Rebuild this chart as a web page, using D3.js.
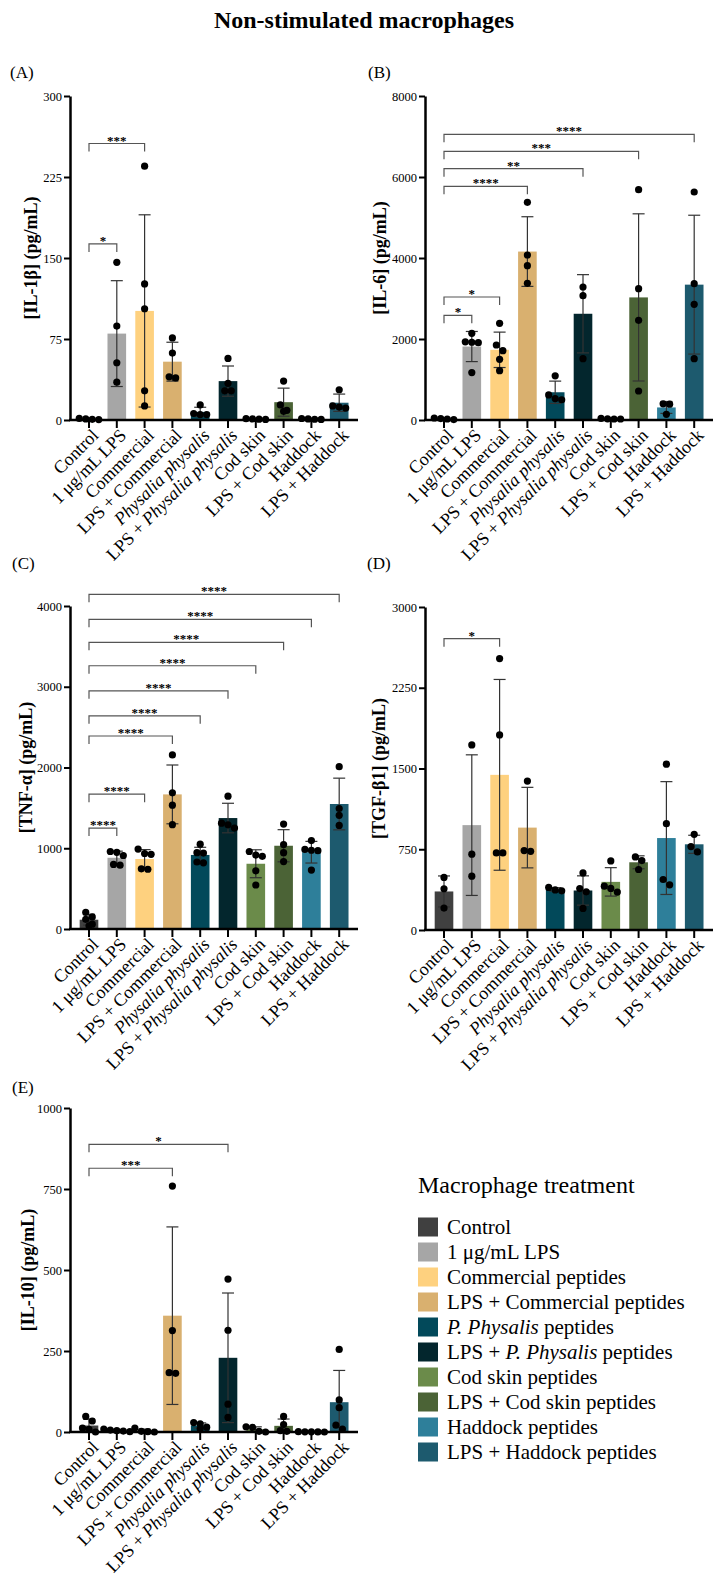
<!DOCTYPE html>
<html>
<head>
<meta charset="utf-8">
<script src="https://cdn.jsdelivr.net/npm/d3@7"></script>
<style>
  body { margin: 0; background: #fff; }
  svg { display: block; }
  text { font-family: "Liberation Serif", "Times New Roman", serif; fill: #000; }
</style>
</head>
<body>
<svg id="chart" width="728" height="1589"></svg>
<script>
// categories + colours
const categories = ["Control", "1 μg/mL LPS", "Commercial", "LPS + Commercial", "Physalia physalis",
  "LPS + Physalia physalis", "Cod skin", "LPS + Cod skin", "Haddock", "LPS + Haddock"];
const legendLabels = ["Control", "1 μg/mL LPS", "Commercial peptides", "LPS + Commercial peptides",
  "P. Physalis peptides", "LPS + P. Physalis peptides", "Cod skin peptides", "LPS + Cod skin peptides",
  "Haddock peptides", "LPS + Haddock peptides"];
const barColors = ["#404040", "#a6a6a6", "#fed17f", "#d9b06f", "#02495a", "#03262d", "#6b8b4a", "#4b6336", "#2e7f9a", "#1d5a6e"];

// (A) IL-1β
const il1bMeans = [1, 80, 101, 54, 7.5, 36, 1, 16.5, 1, 16];
const il1bSD = [0.6, 49, 89, 18, 4.3, 14, 0.5, 13, 0.5, 8];
const il1bPoints = [[1.5, 1, 0.6, 0.4], [146, 87, 53, 35], [235, 126, 103, 27, 13], [76, 62, 40, 39], [14, 6, 5, 5],
  [57, 34, 27, 27], [1.2, 1, 0.8, 0.5], [36, 14, 9, 8], [1.4, 1, 0.7, 0.5], [28, 13, 12, 11]];
const il1bTicks = [0, 75, 150, 225, 300];
const il1bSig = [{ to: 1, label: "*", at: 163 }, { to: 2, label: "***", at: 256 }];

// (B) IL-6
const il6Means = [30, 1814, 1733, 4159, 685, 2623, 30, 3027, 310, 3342];
const il6SD = [15, 372, 437, 860, 275, 966, 12, 2064, 147, 1714];
const il6Points = [[50, 35, 25, 10], [2140, 1930, 1920, 1910, 1170], [2387, 1852, 1712, 1498, 1218], [5375, 4074, 3811, 3375],
  [1090, 620, 530, 500], [3284, 3070, 1514], [40, 30, 25, 25], [5687, 3243, 2461, 716], [400, 390, 140], [5630, 3366, 2856, 1514]];
const il6Ticks = [0, 2000, 4000, 6000, 8000];
const il6Sig = [{ to: 1, label: "*", at: 2585 }, { to: 2, label: "*", at: 3037 }, { to: 3, label: "****", at: 5770 },
  { to: 5, label: "**", at: 6205 }, { to: 7, label: "***", at: 6635 }, { to: 9, label: "****", at: 7054 }];

// (C) TNF-α
const tnfMeans = [115, 882, 867, 1667, 917, 1374, 808, 1031, 951, 1548];
const tnfSD = [67, 82, 116, 364, 95, 183, 173, 199, 134, 320];
const tnfPoints = [[205, 150, 120, 60, 40], [960, 950, 910, 800, 790], [990, 935, 925, 745, 740], [2156, 1686, 1533, 1292],
  [1050, 945, 940, 830, 820], [1645, 1310, 1290, 1250], [960, 915, 900, 720, 545], [1300, 1045, 945, 835],
  [1095, 985, 975, 970, 730], [2010, 1492, 1408, 1283]];
const tnfTicks = [0, 1000, 2000, 3000, 4000];
const tnfSig = [1250, 1670, 2390, 2640, 2950, 3260, 3550, 3835, 4145].map((at, i) => ({ to: i + 1, label: "****", at }));

// (D) TGF-β1
const tgfMeans = [358, 974, 1441, 951, 377, 367, 447, 629, 854, 796];
const tgfSD = [144, 653, 886, 374, 16, 136, 132, 60, 524, 84];
const tgfPoints = [[488, 383, 204], [1719, 704, 500], [2521, 1812, 716, 716], [1383, 731, 738], [395, 372, 364],
  [530, 385, 355, 200], [642, 407, 386, 352], [679, 645, 562], [1540, 988, 469, 420], [889, 775, 725]];
const tgfTicks = [0, 750, 1500, 2250, 3000];
const tgfSig = [{ to: 2, label: "*", at: 2706 }];

// (E) IL-10
const il10Means = [20, 5, 4, 359, 20, 229, 8, 19, 0.5, 92];
const il10SD = [20, 3, 5, 274, 8, 200, 8, 21, 0.3, 98];
const il10Points = [[48, 34, 12, 8, 0], [9, 6, 4, 3, 1], [12, 2, 1, 0], [759, 313, 183, 181], [29, 25, 15, 10],
  [472, 314, 86, 45], [16, 14, 2, 0], [48, 23, 4, 2], [1, 0.5, 0.5, 0.3, 0], [255, 99, 75, 21, 9]];
const il10Ticks = [0, 250, 500, 750, 1000];
const il10Sig = [{ to: 3, label: "***", at: 814 }, { to: 5, label: "*", at: 888 }];

const svg = d3.select("#chart");

// title
svg.append("text")
  .attr("x", 364).attr("y", 28)
  .attr("text-anchor", "middle")
  .attr("font-size", 24).attr("font-weight", "bold")
  .text("Non-stimulated macrophages");

// write a label, italicising the species name
function richText(sel, str, word) {
  const i = str.indexOf(word);
  if (i < 0) { sel.text(str); return; }
  if (i > 0) sel.append("tspan").text(str.slice(0, i));
  sel.append("tspan").attr("font-style", "italic").text(word);
  if (i + word.length < str.length) sel.append("tspan").text(str.slice(i + word.length));
}

const panels = [
  { tag: "(A)", means: il1bMeans, sd: il1bSD, pts: il1bPoints, ticks: il1bTicks, sig: il1bSig, title: "[IL-1β] (pg/mL)",
    ax: 70, top: 96, bottom: 420, titleX: 31, tagX: 10, tagY: 78 },
  { tag: "(B)", means: il6Means, sd: il6SD, pts: il6Points, ticks: il6Ticks, sig: il6Sig, title: "[IL-6] (pg/mL)",
    ax: 425, top: 96, bottom: 420, titleX: 380, tagX: 368, tagY: 78 },
  { tag: "(C)", means: tnfMeans, sd: tnfSD, pts: tnfPoints, ticks: tnfTicks, sig: tnfSig, title: "[TNF-α] (pg/mL)",
    ax: 70, top: 606, bottom: 929, titleX: 26, tagX: 12, tagY: 569 },
  { tag: "(D)", means: tgfMeans, sd: tgfSD, pts: tgfPoints, ticks: tgfTicks, sig: tgfSig, title: "[TGF-β1] (pg/mL)",
    ax: 425, top: 607, bottom: 930, titleX: 379, tagX: 367, tagY: 569 },
  { tag: "(E)", means: il10Means, sd: il10SD, pts: il10Points, ticks: il10Ticks, sig: il10Sig, title: "[IL-10] (pg/mL)",
    ax: 70, top: 1108, bottom: 1432, titleX: 28, tagX: 12, tagY: 1093 }
];

panels.forEach(p => drawPanel(p));

function drawPanel(p) {
  const g = svg.append("g");
  const c0 = p.ax + 19, step = 27.8;
  const x = d3.scaleBand()
    .domain(categories)
    .range([c0 - step / 2, c0 - step / 2 + step * categories.length])
    .paddingInner(0.33).paddingOuter(0.165);
  const y = d3.scaleLinear()
    .domain([0, d3.max(p.ticks)])
    .range([p.bottom, p.top]);
  const cx = i => x(categories[i]) + x.bandwidth() / 2;

  // panel tag
  g.append("text").attr("x", p.tagX).attr("y", p.tagY).attr("font-size", 17).text(p.tag);

  // bars
  g.selectAll(".bar").data(p.means).join("rect")
    .attr("x", (d, i) => x(categories[i]))
    .attr("y", d => y(d))
    .attr("width", x.bandwidth())
    .attr("height", d => p.bottom - y(d))
    .attr("fill", (d, i) => barColors[i]);

  // error bars (mean ± SD)
  const eb = g.append("g").attr("stroke", "#333").attr("stroke-width", 1.2).attr("fill", "none");
  p.means.forEach((m, i) => {
    const hi = y(m + p.sd[i]);
    const loV = m - p.sd[i];
    const lo = loV > 0 ? y(loV) : p.bottom;
    eb.append("line").attr("x1", cx(i)).attr("x2", cx(i)).attr("y1", hi).attr("y2", lo);
    eb.append("line").attr("x1", cx(i) - 6).attr("x2", cx(i) + 6).attr("y1", hi).attr("y2", hi);
    if (loV > 0) eb.append("line").attr("x1", cx(i) - 6).attr("x2", cx(i) + 6).attr("y1", lo).attr("y2", lo);
  });

  // points, spread sideways when they overlap
  p.pts.forEach((vals, i) => {
    const ys = vals.map(v => y(v)).sort((a, b) => a - b);
    const groups = [];
    ys.forEach(py => {
      const last = groups[groups.length - 1];
      if (last && Math.abs(py - last[0]) < 6) last.push(py);
      else groups.push([py]);
    });
    groups.forEach(grp => {
      grp.forEach((py, k) => {
        g.append("circle")
          .attr("cx", cx(i) + (k - (grp.length - 1) / 2) * 6.5)
          .attr("cy", py)
          .attr("r", 3.6)
          .attr("fill", "#000");
      });
    });
  });

  // y axis
  const yAxis = g.append("g")
    .attr("transform", `translate(${p.ax},0)`)
    .call(d3.axisLeft(y).tickValues(p.ticks).tickFormat(d3.format("d"))
      .tickSize(6).tickSizeOuter(0).tickPadding(2));
  yAxis.select(".domain").attr("stroke-width", 2.5);
  yAxis.selectAll(".tick line").attr("stroke-width", 2);
  yAxis.selectAll(".tick text")
    .attr("font-family", "Liberation Serif, serif")
    .attr("font-size", 12.5)
    .attr("fill", "#000");

  // x axis
  g.append("line")
    .attr("x1", p.ax - 1).attr("x2", p.ax + 288)
    .attr("y1", p.bottom).attr("y2", p.bottom)
    .attr("stroke", "#000").attr("stroke-width", 2.5);
  g.selectAll(".xtick").data(categories).join("line")
    .attr("x1", (d, i) => cx(i)).attr("x2", (d, i) => cx(i))
    .attr("y1", p.bottom).attr("y2", p.bottom + 8)
    .attr("stroke", "#000").attr("stroke-width", 2);
  g.selectAll(".xlab").data(categories).join("text")
    .attr("transform", (d, i) => `translate(${cx(i) + 6},${p.bottom + 12}) rotate(-45)`)
    .attr("text-anchor", "end")
    .attr("dy", "0.35em")
    .attr("font-size", 18)
    .each(function (d) { richText(d3.select(this), d, "Physalia physalis"); });

  // y title
  g.append("text")
    .attr("transform", `translate(${p.titleX},${(p.top + p.bottom) / 2}) rotate(-90)`)
    .attr("text-anchor", "middle")
    .attr("dy", "0.35em")
    .attr("font-size", 18).attr("font-weight", "bold")
    .text(p.title);

  // significance brackets
  p.sig.forEach(s => {
    const by = y(s.at), x1 = cx(0), x2 = cx(s.to);
    g.append("path")
      .attr("d", `M${x1},${by + 8}V${by}H${x2}V${by + 8}`)
      .attr("fill", "none").attr("stroke", "#555").attr("stroke-width", 1.2);
    g.append("text")
      .attr("x", (x1 + x2) / 2).attr("y", by + 1)
      .attr("text-anchor", "middle")
      .attr("font-size", 13).attr("font-weight", "bold")
      .text(s.label);
  });
}

// legend
const legend = svg.append("g");
legend.append("text").attr("x", 418).attr("y", 1193).attr("font-size", 24).text("Macrophage treatment");
legendLabels.forEach((lab, i) => {
  const cy = 1227 + 25 * i;
  legend.append("rect").attr("x", 418).attr("y", cy - 9.5).attr("width", 20).attr("height", 19).attr("fill", barColors[i]);
  const t = legend.append("text").attr("x", 447).attr("y", cy + 7).attr("font-size", 21);
  richText(t, lab, "P. Physalis");
});
</script>
</body>
</html>
